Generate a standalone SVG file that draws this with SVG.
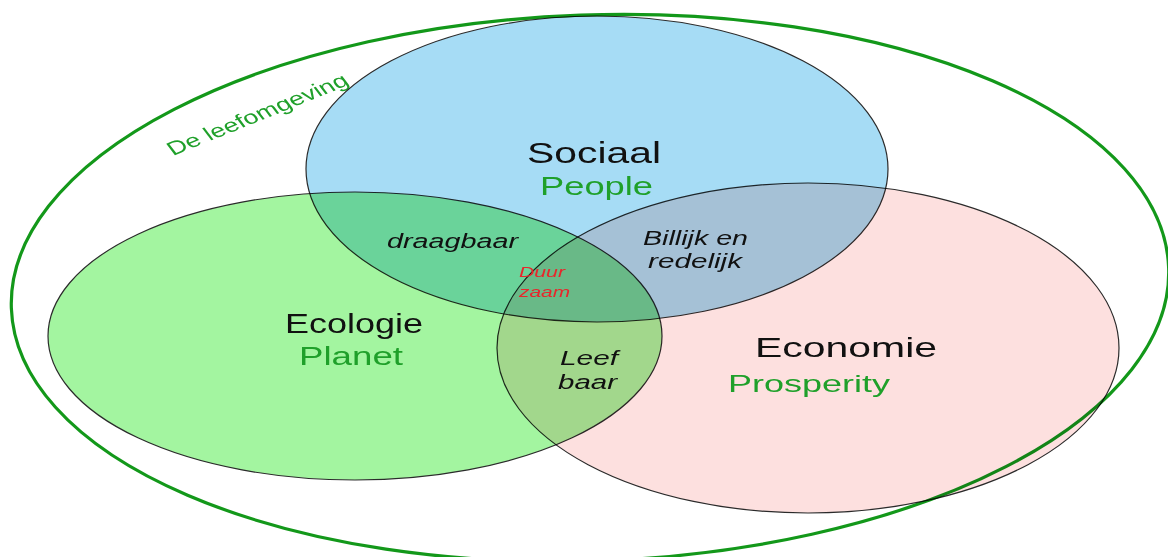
<svg xmlns="http://www.w3.org/2000/svg" width="1168" height="557" viewBox="0 0 1168 557">
  <style>
    .set { stroke: #2b2b2b; stroke-width: 1.2; mix-blend-mode: multiply; }
    .title { font-family: "Liberation Sans", Arial, sans-serif; fill: #111111; }
    .sub { font-family: "Liberation Sans", Arial, sans-serif; fill: #1fa02a; }
    .mid { font-family: "Liberation Sans", Arial, sans-serif; font-style: italic; fill: #111111; }
    .red { font-family: "Liberation Sans", Arial, sans-serif; font-style: italic; fill: #e8262b; }
  </style>
  <rect width="1168" height="557" fill="#ffffff"/>

  <g id="leefomgeving">
    <ellipse cx="590" cy="288" rx="579" ry="273" transform="rotate(-2 590 288)" fill="none" stroke="#13981a" stroke-width="3.2"/>
    <text class="sub" font-size="19" transform="translate(173,156) scale(1.37,1) rotate(-29)" textLength="148" lengthAdjust="spacingAndGlyphs">De leefomgeving</text>
  </g>

  <g id="sociaal">
    <ellipse class="set" cx="597" cy="169" rx="291" ry="153" fill="#a6dcf5"/>
    <text class="title" x="527" y="163" font-size="29" textLength="134" lengthAdjust="spacingAndGlyphs">Sociaal</text>
    <text class="sub" x="540" y="195" font-size="25" textLength="113" lengthAdjust="spacingAndGlyphs">People</text>
  </g>

  <g id="ecologie">
    <ellipse class="set" cx="355" cy="336" rx="307" ry="144" fill="#a3f5a0"/>
    <text class="title" x="285" y="333" font-size="27" textLength="138" lengthAdjust="spacingAndGlyphs">Ecologie</text>
    <text class="sub" x="299" y="365" font-size="25" textLength="104" lengthAdjust="spacingAndGlyphs">Planet</text>
  </g>

  <g id="economie">
    <ellipse class="set" cx="808" cy="348" rx="311" ry="165" fill="#fde0df"/>
    <text class="title" x="755" y="357" font-size="28" textLength="182" lengthAdjust="spacingAndGlyphs">Economie</text>
    <text class="sub" x="728" y="392" font-size="24" textLength="162" lengthAdjust="spacingAndGlyphs">Prosperity</text>
  </g>

  <g id="draagbaar">
    <text class="mid" x="387" y="248" font-size="20" textLength="131" lengthAdjust="spacingAndGlyphs">draagbaar</text>
  </g>
  <g id="billijk">
    <text class="mid" x="643" y="245" font-size="20" textLength="105" lengthAdjust="spacingAndGlyphs">Billijk en</text>
    <text class="mid" x="648" y="268" font-size="20" textLength="94" lengthAdjust="spacingAndGlyphs">redelijk</text>
  </g>
  <g id="leefbaar">
    <text class="mid" x="560" y="365" font-size="20" textLength="58" lengthAdjust="spacingAndGlyphs">Leef</text>
    <text class="mid" x="558" y="389" font-size="20" textLength="59" lengthAdjust="spacingAndGlyphs">baar</text>
  </g>
  <g id="duurzaam">
    <text class="red" x="519" y="277" font-size="14" textLength="46" lengthAdjust="spacingAndGlyphs">Duur</text>
    <text class="red" x="519" y="297" font-size="14" textLength="51" lengthAdjust="spacingAndGlyphs">zaam</text>
  </g>

  <g id="connectors"/>
</svg>
